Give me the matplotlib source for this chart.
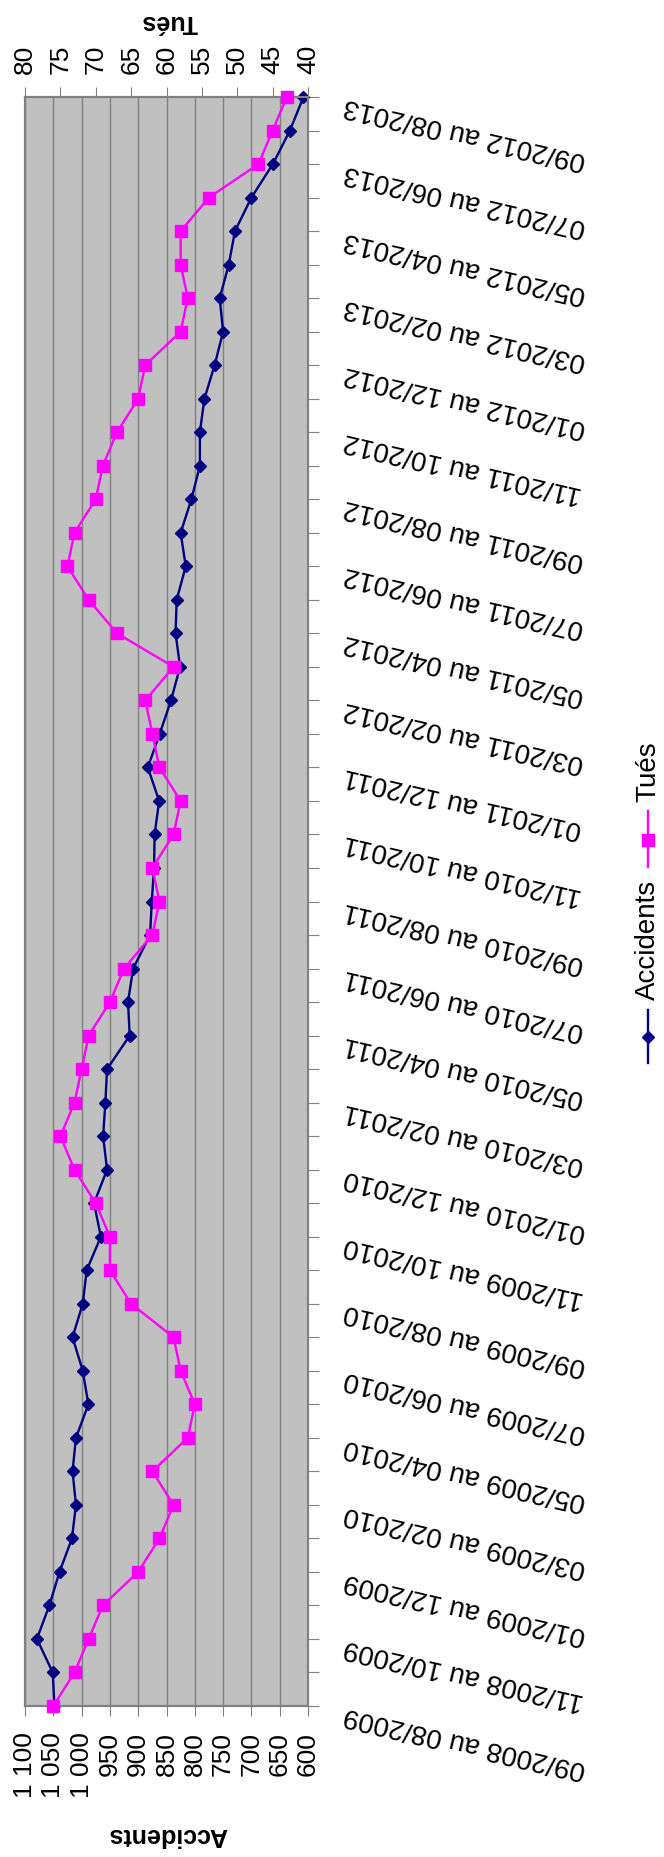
import matplotlib
matplotlib.use("Agg")
import matplotlib.pyplot as plt
from matplotlib.lines import Line2D
import numpy as np

plt.rcParams["font.family"] = ["Liberation Sans", "DejaVu Sans"]

# rolling 12-month windows, one label every second window
period_labels = [
    "09/2008 au 08/2009", "11/2008 au 10/2009", "01/2009 au 12/2009",
    "03/2009 au 02/2010", "05/2009 au 04/2010", "07/2009 au 06/2010",
    "09/2009 au 08/2010", "11/2009 au 10/2010", "01/2010 au 12/2010",
    "03/2010 au 02/2011", "05/2010 au 04/2011", "07/2010 au 06/2011",
    "09/2010 au 08/2011", "11/2010 au 10/2011", "01/2011 au 12/2011",
    "03/2011 au 02/2012", "05/2011 au 04/2012", "07/2011 au 06/2012",
    "09/2011 au 08/2012", "11/2011 au 10/2012", "01/2012 au 12/2012",
    "03/2012 au 02/2013", "05/2012 au 04/2013", "07/2012 au 06/2013",
    "09/2012 au 08/2013",
]

accidents = [
    1048, 1051, 1079, 1057, 1039, 1017, 1010, 1016, 1010, 988,
    998, 1016, 998, 991, 966, 978, 955, 962, 958, 955,
    915, 918, 909, 879, 876, 872, 871, 863, 883, 862,
    842, 826, 834, 832, 816, 825, 806, 791, 791, 783,
    765, 750, 756, 740, 729, 700, 662, 632, 608,
]

tues = [
    76, 73, 71, 69, 64, 61, 59, 62, 57, 56,
    58, 59, 65, 68, 68, 70, 73, 75, 73, 72,
    71, 68, 66, 62, 61, 62, 59, 58, 61, 62,
    63, 59, 67, 71, 74, 73, 70, 69, 67, 64,
    63, 58, 57, 58, 58, 54, 47, 45, 43,
]

acc_ticks = [600, 650, 700, 750, 800, 850, 900, 950, 1000, 1050, 1100]
acc_tick_labels = ["600", "650", "700", "750", "800", "850", "900", "950",
                   "1 000", "1 050", "1 100"]
tues_ticks = [40, 45, 50, 55, 60, 65, 70, 75, 80]

W, H = 664, 1858
GREY = "#808080"
NAVY = "#000080"
MAGENTA = "#ff00ff"


def fx(px):
    return px / W


def fy(py):
    return 1 - py / H


fig = plt.figure(figsize=(W / 100, H / 100), dpi=100)
ax = fig.add_axes([fx(25), fy(1707), 283 / W, 1609 / H])
idx = np.arange(len(accidents))

ax.set_facecolor("#c0c0c0")
ax.plot(accidents, idx, color=NAVY, lw=1.7, marker="D", ms=6.5,
        clip_on=False, zorder=3)
ax.set_xlim(1100, 600)
ax.set_ylim(0, len(accidents) - 1)
ax.set_xticks(acc_ticks)
ax.set_xticklabels(acc_tick_labels, rotation=90, fontsize=19)
ax.grid(axis="x", color=GREY, lw=1)
ax.set_axisbelow(True)
ax.set_yticks(idx)
ax.tick_params(axis="y", length=8, color=GREY, left=False, right=True,
               labelleft=False, labelright=False)
ax.tick_params(axis="x", length=7, color=GREY, pad=11)
for s in ax.spines.values():
    s.set_color(GREY)
    s.set_linewidth(1.5)

ax2 = ax.twiny()
ax2.plot(tues, idx, color=MAGENTA, lw=1.7, marker="s", ms=8.5,
         clip_on=False, zorder=4)
ax2.set_xlim(80, 40)
ax2.set_xticks(tues_ticks)
ax2.set_xticklabels([str(t) for t in tues_ticks], rotation=90, fontsize=19)
ax2.tick_params(axis="x", length=7, color=GREY, pad=10)
for s in ax2.spines.values():
    s.set_color(GREY)
    s.set_linewidth(1.5)

# category labels, upside down and slanted
for k, lab in enumerate(period_labels):
    ax.text(1.134, 2 * k, lab, transform=ax.get_yaxis_transform(),
            rotation=167, rotation_mode="anchor", ha="right", va="baseline",
            fontsize=20)

fig.text(fx(168), fy(1835), "Accidents", rotation=180, ha="center",
         va="center", fontsize=18, fontweight="bold")
fig.text(fx(170), fy(22), "Tués", rotation=180, ha="center",
         va="center", fontsize=18, fontweight="bold")

# legend, drawn by hand so it can be turned
lx = fx(648)
for name, color, mk, ms, y0, y1, ym, yt in [
    ("Accidents", NAVY, "D", 6.5, 1011, 1064, 1038, 940),
    ("Tués", MAGENTA, "s", 8.5, 812, 868, 841, 772),
]:
    fig.add_artist(Line2D([lx, lx], [fy(y0), fy(y1)], color=color, lw=1.7,
                          transform=fig.transFigure))
    fig.add_artist(Line2D([lx], [fy(ym)], color=color, marker=mk, ms=ms,
                          transform=fig.transFigure))
    fig.text(lx, fy(yt), name, rotation=90, ha="center", va="center",
             fontsize=20)

fig.savefig("out.png", dpi=100)
